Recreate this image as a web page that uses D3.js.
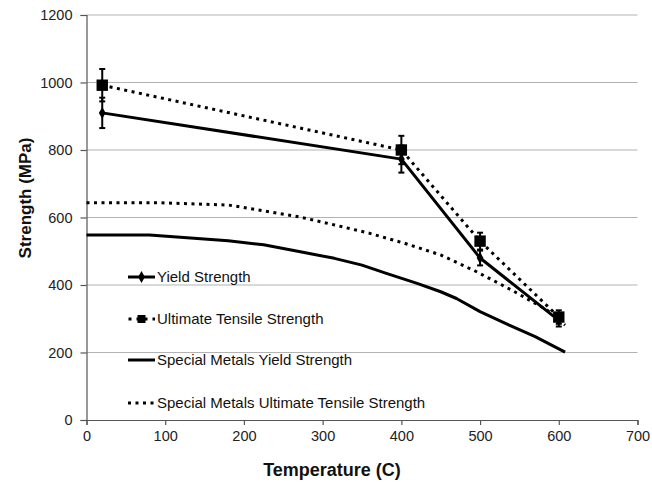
<!DOCTYPE html>
<html>
<head>
<meta charset="utf-8">
<script src="https://cdn.jsdelivr.net/npm/d3@7"></script>
<style>
  body { margin: 0; background: #fff; }
  svg { display: block; font-family: "Liberation Sans", Arial, sans-serif; }
</style>
</head>
<body>
<svg id="chart" width="652" height="486"></svg>
<script>
// Measured test data (temperature in °C, strength in MPa)
const testTemps = [20, 400, 500, 600];
const yieldStrength = [910, 773, 480, 295];
const yieldError = [45, 40, 22, 18];
const utsStrength = [992, 800, 530, 305];
const utsError = [48, 42, 25, 20];

// Special Metals published curves
const smYieldTemps = [0, 80, 180, 225, 270, 315, 350, 380, 420, 450, 470, 500, 537, 570, 608];
const smYieldValues = [548, 548, 531, 519, 499, 479, 459, 435, 405, 380, 360, 321, 281, 247, 201];
const smUtsTemps = [0, 90, 180, 225, 270, 315, 360, 405, 450, 495, 540, 585, 608];
const smUtsValues = [644, 644, 637, 620, 602, 578, 553, 523, 489, 440, 385, 326, 281];

const xTicks = [0, 100, 200, 300, 400, 500, 600, 700];
const yTicks = [0, 200, 400, 600, 800, 1000, 1200];

const legendLabels = [
  "Yield Strength",
  "Ultimate Tensile Strength",
  "Special Metals Yield Strength",
  "Special Metals Ultimate Tensile Strength"
];

const svg = d3.select("#chart");
const plotLeft = 86.5, plotRight = 637.5, plotTop = 15, plotBottom = 420;

const x = d3.scaleLinear().domain([0, 700]).range([plotLeft, plotRight]);
const y = d3.scaleLinear().domain([0, 1200]).range([plotBottom, plotTop]);

// Horizontal gridlines
svg.append("g")
  .selectAll("line")
  .data(yTicks.filter(d => d > 0))
  .join("line")
  .attr("x1", plotLeft).attr("x2", plotRight)
  .attr("y1", d => y(d)).attr("y2", d => y(d))
  .attr("stroke", "#b3b3b3")
  .attr("stroke-width", 1.2);

// Axes
const xAxis = svg.append("g")
  .attr("transform", `translate(0,${plotBottom})`)
  .call(d3.axisBottom(x).tickValues(xTicks).tickSize(5).tickPadding(6).tickFormat(d3.format("d")));
const yAxis = svg.append("g")
  .attr("transform", `translate(${plotLeft},0)`)
  .call(d3.axisLeft(y).tickValues(yTicks).tickSize(6).tickPadding(8).tickFormat(d3.format("d")));

[xAxis, yAxis].forEach(g => {
  g.select(".domain").attr("stroke", "#555").attr("stroke-width", 1.2);
  g.selectAll(".tick line").attr("stroke", "#555").attr("stroke-width", 1.2);
  g.selectAll(".tick text").attr("font-size", 14.5).attr("fill", "#222")
    .attr("font-family", "'Liberation Sans', Arial, sans-serif");
});

// Axis titles
svg.append("text")
  .attr("x", 332).attr("y", 476)
  .attr("text-anchor", "middle")
  .attr("font-size", 18).attr("font-weight", "bold").attr("fill", "#111")
  .text("Temperature (C)");
svg.append("text")
  .attr("transform", "translate(31,198) rotate(-90)")
  .attr("text-anchor", "middle")
  .attr("font-size", 17).attr("font-weight", "bold").attr("fill", "#111")
  .text("Strength (MPa)");

const dotted = "3,4.5";

// Special Metals curves
const lineGen = d3.line().x(d => x(d[0])).y(d => y(d[1]));
svg.append("path")
  .datum(d3.zip(smYieldTemps, smYieldValues))
  .attr("d", lineGen)
  .attr("fill", "none").attr("stroke", "#000").attr("stroke-width", 3)
  .attr("stroke-linejoin", "round");
svg.append("path")
  .datum(d3.zip(smUtsTemps, smUtsValues))
  .attr("d", lineGen)
  .attr("fill", "none").attr("stroke", "#000").attr("stroke-width", 3)
  .attr("stroke-dasharray", dotted);

// Test data lines
const yieldPts = d3.zip(testTemps, yieldStrength, yieldError);
const utsPts = d3.zip(testTemps, utsStrength, utsError);

svg.append("path")
  .datum(utsPts)
  .attr("d", lineGen)
  .attr("fill", "none").attr("stroke", "#000").attr("stroke-width", 3)
  .attr("stroke-dasharray", dotted);
svg.append("path")
  .datum(yieldPts)
  .attr("d", lineGen)
  .attr("fill", "none").attr("stroke", "#000").attr("stroke-width", 3)
  .attr("stroke-linejoin", "round");

// Error bars
function errorBars(pts) {
  const g = svg.append("g").attr("stroke", "#000").attr("stroke-width", 2);
  pts.forEach(([t, v, e]) => {
    g.append("line").attr("x1", x(t)).attr("x2", x(t)).attr("y1", y(v - e)).attr("y2", y(v + e));
    g.append("line").attr("x1", x(t) - 3).attr("x2", x(t) + 3).attr("y1", y(v - e)).attr("y2", y(v - e));
    g.append("line").attr("x1", x(t) - 3).attr("x2", x(t) + 3).attr("y1", y(v + e)).attr("y2", y(v + e));
  });
}
errorBars(utsPts);
errorBars(yieldPts);

// Markers
const squareSym = d3.symbol().type(d3.symbolSquare).size(130);
const diamondSym = d3.symbol().type(d3.symbolDiamond).size(40);
svg.append("g").selectAll("path")
  .data(utsPts).join("path")
  .attr("transform", d => `translate(${x(d[0])},${y(d[1])})`)
  .attr("d", squareSym).attr("fill", "#000");
svg.append("g").selectAll("path")
  .data(yieldPts).join("path")
  .attr("transform", d => `translate(${x(d[0])},${y(d[1])})`)
  .attr("d", diamondSym).attr("fill", "#000");

// Legend
const legendRows = [277, 319, 360, 403];
const lx1 = 128, lx2 = 155;
const legend = svg.append("g");
legendLabels.forEach((label, i) => {
  const ly = legendRows[i];
  const line = legend.append("line")
    .attr("x1", lx1).attr("x2", lx2).attr("y1", ly).attr("y2", ly)
    .attr("stroke", "#000").attr("stroke-width", 3);
  if (i === 1 || i === 3) line.attr("stroke-dasharray", dotted);
  if (i === 1) line.attr("x1", lx1 + 0.5).attr("stroke-dasharray", "3,5");
  if (i === 0) {
    legend.append("path").attr("transform", `translate(${(lx1 + lx2) / 2},${ly})`)
      .attr("d", diamondSym).attr("fill", "#000");
  }
  if (i === 1) {
    legend.append("path").attr("transform", `translate(${(lx1 + lx2) / 2},${ly})`)
      .attr("d", d3.symbol().type(d3.symbolSquare).size(64)).attr("fill", "#000");
  }
  legend.append("text")
    .attr("x", lx2 + 2).attr("y", ly).attr("dy", "0.35em")
    .attr("font-size", 15).attr("fill", "#111")
    .text(label);
});
</script>
</body>
</html>
